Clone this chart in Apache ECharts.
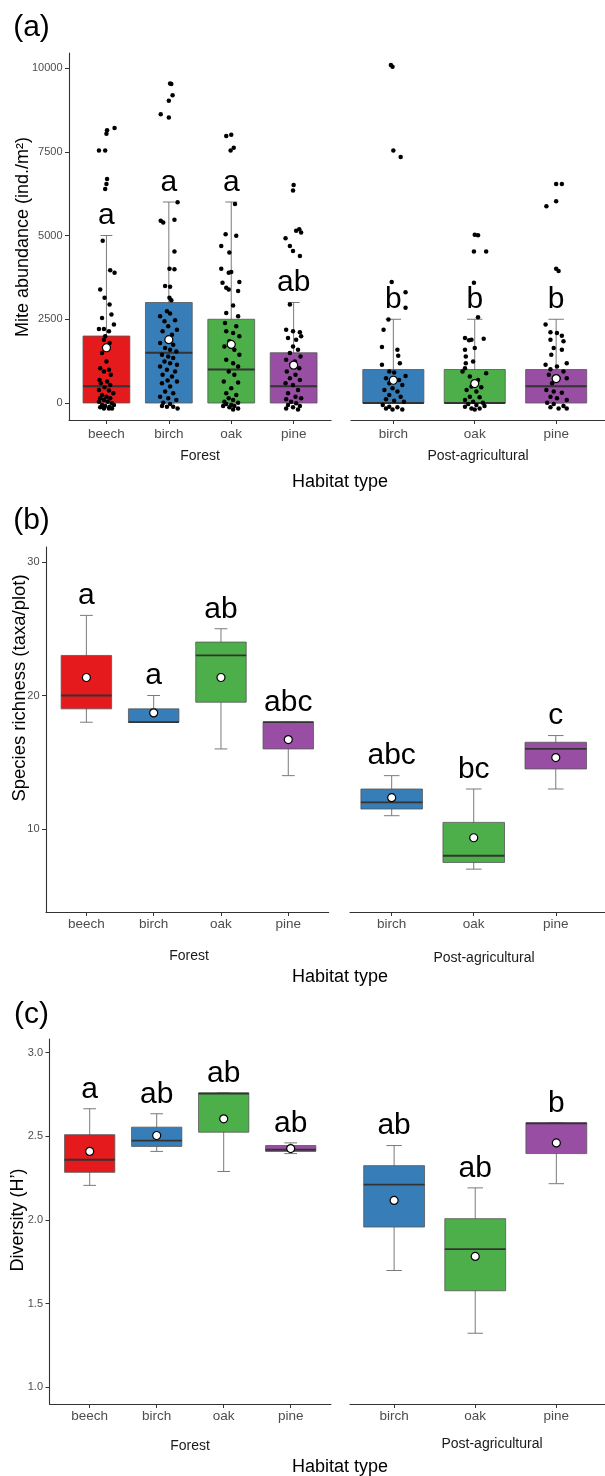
<!DOCTYPE html>
<html>
<head>
<meta charset="utf-8">
<script src="https://cdn.jsdelivr.net/npm/echarts@6/dist/echarts.min.js"></script>
<style>
  html, body { margin: 0; padding: 0; background: #fff; }
  #chart { width: 605px; height: 1476px; }
</style>
</head>
<body>
<div id="chart"></div>
<script>
// categories per facet
const forestCats = ['beech', 'birch', 'oak', 'pine'];
const postCats = ['birch', 'oak', 'pine'];

// box stats: [low whisker, q1, median, q3, high whisker, mean]
const abundForest = [[0, 0, 500, 2000, 5000, 1650], [0, 0, 1500, 3000, 6000, 1890], [0, 0, 1000, 2500, 6000, 1750], [0, 0, 500, 1500, 3000, 1130]];
const abundPost = [[0, 0, 0, 1000, 2500, 680], [0, 0, 0, 1000, 2500, 580], [0, 0, 500, 1000, 2500, 730]];
const richForest = [[18, 19, 20, 23, 26, 21.35], [18, 18, 18, 19, 20, 18.7], [16, 19.5, 23, 24, 25, 21.35], [14, 16, 18, 18, 18, 16.7]];
const richPost = [[11, 11.5, 12, 13, 14, 12.35], [7, 7.5, 8, 10.5, 13, 9.35], [13, 14.5, 16, 16.5, 17, 15.35]];
const divForest = [[2.207, 2.285, 2.36, 2.51, 2.665, 2.41], [2.41, 2.44, 2.475, 2.555, 2.635, 2.505], [2.29, 2.525, 2.755, 2.76, 2.76, 2.605], [2.397, 2.41, 2.42, 2.445, 2.461, 2.427]];
const divPost = [[1.698, 1.958, 2.211, 2.325, 2.445, 2.117], [1.323, 1.577, 1.826, 2.008, 2.192, 1.782], [2.217, 2.397, 2.578, 2.581, 2.581, 2.461]];

// significance letters
const abundLettersForest = ['a', 'a', 'a', 'ab'];
const abundLettersPost = ['b', 'b', 'b'];
const richLettersForest = ['a', 'a', 'ab', 'abc'];
const richLettersPost = ['abc', 'bc', 'c'];
const divLettersForest = ['a', 'ab', 'ab', 'ab'];
const divLettersPost = ['ab', 'ab', 'b'];

// y tick labels
const abundTicks = [0, 2500, 5000, 7500, 10000];
const richTicks = [10, 20, 30];
const divTicks = [1.0, 1.5, 2.0, 2.5, 3.0];

// mite abundance plots, [jitter, value]
const beechF = [[.13,8210],[.01,8140],[0,8040],[-.12,7540],[-.02,7540],[.01,6690],[0,6540],[-.02,6390],[-.06,4840],[.06,3960],[.13,3890],[-.10,3390],[-.03,3140],[.05,2940],[.08,2640],[-.07,2540],[-.12,2210],[-.04,2210],[.12,2340],[.04,2140],[-.02,1990],[-.04,1890],[.05,1790],[-.07,1490],[0,1240],[-.10,1040],[.04,990],[-.04,940],[.07,840],[-.11,690],[.01,640],[-.09,590],[.06,540],[-.03,470],[-.12,390],[.04,370],[.11,290],[-.07,240],[0,190],[-.10,140],[.06,140],[-.04,90],[.02,40],[-.12,40],[.09,-10],[-.07,-60],[-.02,-90],[.05,-110],[-.10,-130],[.12,-60],[-.04,-160],[.04,-160],[.09,-160]];
const birchF = [[.02,9540],[.04,9520],[.06,9190],[0,9020],[-.13,8620],[0,8520],[.14,5990],[-.13,5440],[-.09,5390],[.09,5470],[.09,4520],[.01,4010],[.09,3990],[-.06,3490],[.02,3470],[.01,3140],[.04,3070],[-.03,2740],[.02,2670],[-.14,2590],[-.07,2440],[.10,2470],[-.01,2290],[.13,2190],[-.10,2140],[.05,2040],[-.03,1890],[-.14,1790],[.07,1740],[-.06,1640],[.02,1590],[.12,1540],[-.11,1440],[-.01,1390],[.07,1340],[-.07,1240],[.02,1190],[.13,1140],[-.14,1090],[-.03,990],[.10,940],[-.10,840],[.05,790],[-.02,670],[.13,640],[-.11,590],[.02,490],[-.06,340],[.07,290],[-.14,190],[-.01,140],[.12,90],[-.09,10],[.02,-30],[-.03,-110],[.07,-110],[.14,-160],[-.11,-90]];
const oakF = [[-.08,7970],[0,8010],[.04,7620],[-.01,7540],[.06,5940],[-.09,5040],[.08,4990],[-.16,4690],[-.03,4490],[-.16,4010],[0,3910],[-.04,3890],[-.14,3590],[.13,3610],[-.08,3440],[-.04,3390],[.11,3340],[.03,2910],[-.08,2690],[.11,2590],[-.10,2390],[.08,2290],[-.08,2140],[.03,2090],[.13,1990],[-.03,1840],[-.11,1690],[.05,1590],[.13,1440],[-.08,1290],[.03,1190],[.11,1090],[-.04,940],[.05,840],[-.12,640],[.11,610],[0,440],[-.08,290],[.08,240],[-.04,140],[.03,90],[-.11,40],[.11,10],[-.08,-30],[0,-60],[.05,-90],[-.13,-90],[-.03,-130],[.11,-160],[.03,-190]];
const pineF = [[0,6510],[-.01,6340],[-.13,4920],[.09,5190],[.12,5090],[.04,5140],[-.06,4690],[-.01,4540],[.10,4390],[-.06,2940],[-.12,2190],[-.01,2140],[.10,2110],[.12,1990],[-.09,1940],[.04,1890],[-.01,1690],[.07,1590],[-.06,1490],[.11,1390],[-.12,1290],[.02,1240],[-.04,1140],[.09,1040],[-.11,940],[.03,840],[-.06,740],[.10,690],[-.13,590],[-.01,540],[.07,390],[-.09,290],[.03,190],[-.12,110],[.12,140],[-.04,40],[.04,-10],[-.09,-60],[.10,-90],[-.01,-130],[-.12,-160],[.07,-190]];
const birchP = [[-.03,10090],[-.01,10040],[0,7540],[.09,7340],[-.02,3610],[.15,3310],[.15,2840],[-.06,2490],[-.12,2190],[-.14,1670],[.05,1590],[.06,1410],[.08,1190],[-.14,1140],[-.05,940],[.01,910],[.15,810],[-.09,740],[.07,690],[-.05,590],[.11,540],[-.01,440],[-.11,390],[.05,340],[-.05,240],[.09,190],[-.09,110],[.01,70],[.13,40],[-.13,-60],[-.05,-110],[.05,-130],[.11,-190],[-.01,-190],[-.09,-160]];
const oakP = [[0,5020],[.04,5010],[-.01,4520],[.14,4520],[-.01,3590],[.04,2560],[-.12,1940],[-.07,1870],[-.04,1890],[.11,1920],[0,1640],[-.12,1590],[-.11,1390],[-.11,1190],[-.02,1240],[-.12,1040],[-.15,940],[.14,890],[-.06,790],[.04,690],[-.04,490],[.08,470],[-.10,390],[.02,340],[-.06,190],[.06,170],[-.12,90],[-.02,40],[.10,10],[-.08,-30],[.02,-60],[-.12,-110],[-.04,-160],[.06,-160],[.12,-90],[0,-190]];
const pineP = [[0,6540],[.07,6540],[-.12,5870],[0,6020],[0,4010],[.03,3940],[-.13,2340],[-.07,2110],[.01,2090],[.07,2010],[-.07,1890],[.09,1840],[-.03,1640],[-.06,1440],[.07,1590],[.13,1190],[-.13,1140],[.01,1090],[-.07,1010],[.09,940],[-.09,840],[.03,740],[.13,740],[-.05,590],[-.12,390],[-.03,340],[.07,310],[-.07,190],[.01,140],[.13,90],[-.11,10],[-.03,-30],[.09,-90],[-.07,-130],[.03,-160],[.13,-160]];

const FONT = '"Liberation Sans", Arial, Helvetica, sans-serif';
const fillOf = { beech: '#E41A1C', birch: '#377EB8', oak: '#4DAF4A', pine: '#984EA3' };

// layout of the three panels (pixel positions)
const panels = [
  {
    top: 53, bottom: 420, yMin: -507, yMax: 10448, yTicks: abundTicks, digits: 0, labelMargin: 7.3,
    facets: [
      { cats: forestCats, boxes: abundForest, letters: abundLettersForest, points: [beechF, birchF, oakF, pineF], left: 69, unit: 62.4, min: -0.6 },
      { cats: postCats, boxes: abundPost, letters: abundLettersPost, points: [birchP, oakP, pineP], left: 351, unit: 82.5, min: -0.52 }
    ]
  },
  {
    top: 547, bottom: 912, yMin: 3.79, yMax: 31.12, yTicks: richTicks, digits: 0, labelMargin: 5.7,
    facets: [
      { cats: forestCats, boxes: richForest, letters: richLettersForest, left: 46, unit: 67.3, min: -0.6 },
      { cats: postCats, boxes: richPost, letters: richLettersPost, left: 350, unit: 88.5, min: -0.508 }
    ]
  },
  {
    top: 1039, bottom: 1404, yMin: 0.9, yMax: 3.082, yTicks: divTicks, digits: 1, labelMargin: 5,
    facets: [
      { cats: forestCats, boxes: divForest, letters: divLettersForest, left: 49.5, unit: 67, min: -0.6 },
      { cats: postCats, boxes: divPost, letters: divLettersPost, left: 350, unit: 87.7, min: -0.544 }
    ]
  }
];

function boxRenderer(cats) {
  return function (params, api) {
    const i = api.value(0);
    const x = api.coord([i, 0])[0];
    const yLo = api.coord([i, api.value(1)])[1];
    const yQ1 = api.coord([i, api.value(2)])[1];
    const yMd = api.coord([i, api.value(3)])[1];
    const yQ3 = api.coord([i, api.value(4)])[1];
    const yHi = api.coord([i, api.value(5)])[1];
    const half = api.size([0.75, 0])[0] / 2;
    const cap = api.size([0.19, 0])[0] / 2;
    const whisk = { stroke: '#7a7a7a', lineWidth: 1 };
    return {
      type: 'group',
      children: [
        { type: 'line', shape: { x1: x, y1: yLo, x2: x, y2: yHi }, style: whisk },
        { type: 'line', shape: { x1: x - cap, y1: yHi, x2: x + cap, y2: yHi }, style: whisk },
        { type: 'line', shape: { x1: x - cap, y1: yLo, x2: x + cap, y2: yLo }, style: whisk },
        { type: 'rect', shape: { x: x - half, y: yQ3, width: half * 2, height: yQ1 - yQ3 }, style: { fill: fillOf[cats[i]], stroke: '#555', lineWidth: 0.8 } },
        { type: 'line', shape: { x1: x - half, y1: yMd, x2: x + half, y2: yMd }, style: { stroke: '#333', lineWidth: 1.8 } }
      ]
    };
  };
}

function letterRenderer(letters) {
  return function (params, api) {
    const p = api.coord([api.value(0), api.value(1)]);
    return {
      type: 'text',
      x: p[0], y: p[1] - 4.5,
      style: {
        text: letters[params.dataIndex], font: '30px ' + FONT, fill: '#000',
        align: 'center', verticalAlign: 'bottom', textAlign: 'center', textVerticalAlign: 'bottom'
      }
    };
  };
}

const grid = [], xAxis = [], yAxis = [], series = [];
panels.forEach(p => {
  p.facets.forEach((f, k) => {
    const gi = grid.length;
    const max = f.cats.length - 0.4;
    const idx = f.cats.map((c, i) => i);
    grid.push({ left: f.left, top: p.top, width: (max - f.min) * f.unit, height: p.bottom - p.top });
    xAxis.push({
      gridIndex: gi, type: 'value', min: f.min, max: max,
      axisLine: { show: true, onZero: false, lineStyle: { color: '#333', width: 1.1 } },
      axisTick: { show: true, length: 4, customValues: idx, lineStyle: { color: '#333' } },
      axisLabel: { customValues: idx, formatter: v => f.cats[Math.round(v)], color: '#4d4d4d', fontSize: 13.5, fontFamily: FONT, margin: p.labelMargin },
      splitLine: { show: false }
    });
    yAxis.push({
      gridIndex: gi, type: 'value', min: p.yMin, max: p.yMax, show: k === 0,
      axisLine: { show: true, onZero: false, lineStyle: { color: '#333', width: 1.1 } },
      axisTick: { show: true, length: 4, customValues: p.yTicks, lineStyle: { color: '#333' } },
      axisLabel: { customValues: p.yTicks, formatter: v => v.toFixed(p.digits), color: '#4d4d4d', fontSize: 11, fontFamily: FONT, margin: 6.5 },
      splitLine: { show: false }
    });
    series.push({
      type: 'custom', xAxisIndex: gi, yAxisIndex: gi, z: 2, silent: true,
      renderItem: boxRenderer(f.cats),
      encode: { x: 0, y: [1, 2, 3, 4, 5] },
      data: f.boxes.map((s, i) => [i].concat(s))
    });
    if (f.points) {
      series.push({
        type: 'scatter', xAxisIndex: gi, yAxisIndex: gi, z: 3, silent: true,
        symbolSize: 4.5, itemStyle: { color: '#000', opacity: 1 },
        data: f.points.flatMap((g, i) => g.map(d => [i + d[0], d[1]]))
      });
    }
    series.push({
      type: 'scatter', xAxisIndex: gi, yAxisIndex: gi, z: 4, silent: true,
      symbolSize: 8, itemStyle: { color: '#fff', borderColor: '#000', borderWidth: 1.2, opacity: 1 },
      data: f.boxes.map((s, i) => [i, s[5]])
    });
    series.push({
      type: 'custom', xAxisIndex: gi, yAxisIndex: gi, z: 5, silent: true,
      renderItem: letterRenderer(f.letters),
      encode: { x: 0, y: 1 },
      data: f.boxes.map((s, i) => [i, s[4]])
    });
  });
});

function text(str, x, y, size, color, rotation) {
  return {
    type: 'text', x: x, y: y, rotation: rotation || 0, silent: true,
    style: { text: str, font: size + 'px ' + FONT, fill: color, align: 'center', verticalAlign: 'middle', textAlign: 'center', textVerticalAlign: 'middle' }
  };
}

const graphic = [
  text('(a)', 31.5, 27.5, 30, '#000'),
  text('(b)', 31.5, 521, 30, '#000'),
  text('(c)', 31.5, 1015, 30, '#000'),
  text('Mite abundance (ind./m²)', 23, 237, 18, '#000', Math.PI / 2),
  text('Species richness (taxa/plot)', 20, 688, 18.5, '#000', Math.PI / 2),
  text('Diversity (H\u2019)', 18, 1220, 18, '#000', Math.PI / 2),
  text('Forest', 200, 456, 14, '#1a1a1a'),
  text('Post-agricultural', 478, 456, 14, '#1a1a1a'),
  text('Habitat type', 340, 482, 18, '#000'),
  text('Forest', 189, 956, 14, '#1a1a1a'),
  text('Post-agricultural', 484, 958, 14, '#1a1a1a'),
  text('Habitat type', 340, 977, 18, '#000'),
  text('Forest', 190, 1446, 14, '#1a1a1a'),
  text('Post-agricultural', 492, 1444, 14, '#1a1a1a'),
  text('Habitat type', 340, 1467, 18, '#000')
];

const chart = echarts.init(document.getElementById('chart'), null, { renderer: 'canvas' });
chart.setOption({
  backgroundColor: '#fff',
  animation: false,
  textStyle: { fontFamily: FONT },
  grid: grid,
  xAxis: xAxis,
  yAxis: yAxis,
  series: series,
  graphic: graphic
});
</script>
</body>
</html>
